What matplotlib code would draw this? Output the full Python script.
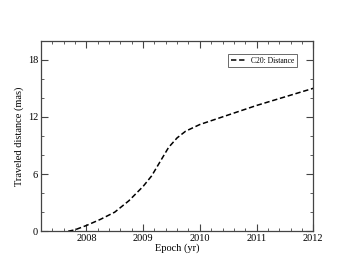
import numpy as np
import matplotlib
matplotlib.use('Agg')
import matplotlib.pyplot as plt
from matplotlib.ticker import MultipleLocator

# Traveled distance of component C20
epoch = [2007.68, 2007.8, 2008.0, 2008.25, 2008.5, 2008.75, 2009.0, 2009.15,
         2009.3, 2009.45, 2009.6, 2009.75, 2010.0, 2010.25, 2010.5, 2011.0,
         2011.5, 2012.0]
distance = [0.0, 0.15, 0.6, 1.25, 2.0, 3.2, 4.7, 5.8,
            7.3, 8.8, 9.8, 10.5, 11.2, 11.7, 12.2, 13.2,
            14.1, 15.0]

plt.rcParams['font.family'] = ['Liberation Serif', 'DejaVu Serif']

fig = plt.figure(figsize=(3.53, 2.73), dpi=100)
ax = fig.add_axes([0.116, 0.153, 0.7715, 0.698])

ax.plot(epoch, distance, color='black', lw=1.1, ls=(0, (3.5, 1.8)),
        label='C20: Distance')

ax.set_xlim(2007.2, 2012)
ax.set_ylim(0, 20)
ax.xaxis.set_major_locator(MultipleLocator(1))
ax.xaxis.set_minor_locator(MultipleLocator(0.2))
ax.yaxis.set_major_locator(MultipleLocator(6))
ax.yaxis.set_minor_locator(MultipleLocator(2))

ax.tick_params(which='both', direction='in', top=True, right=True,
               colors='#444444', labelcolor='black', labelsize=7.5, pad=2)
ax.tick_params(which='major', length=5, width=0.8)
ax.tick_params(which='minor', length=2.5, width=0.6)
for s in ax.spines.values():
    s.set_color('#444444')
    s.set_linewidth(0.9)

ax.set_xlabel('Epoch (yr)', fontsize=7.5, labelpad=0)
ax.set_ylabel('Traveled distance (mas)', fontsize=7.5, labelpad=3)

leg = ax.legend(loc='upper right', fontsize=5.5, frameon=True, fancybox=False,
                edgecolor='#444444', handlelength=2.0, borderpad=0.35,
                handletextpad=0.6, borderaxespad=0,
                bbox_to_anchor=(0.94, 0.93))
leg.get_frame().set_linewidth(0.7)

fig.savefig('out.png', dpi=100)
